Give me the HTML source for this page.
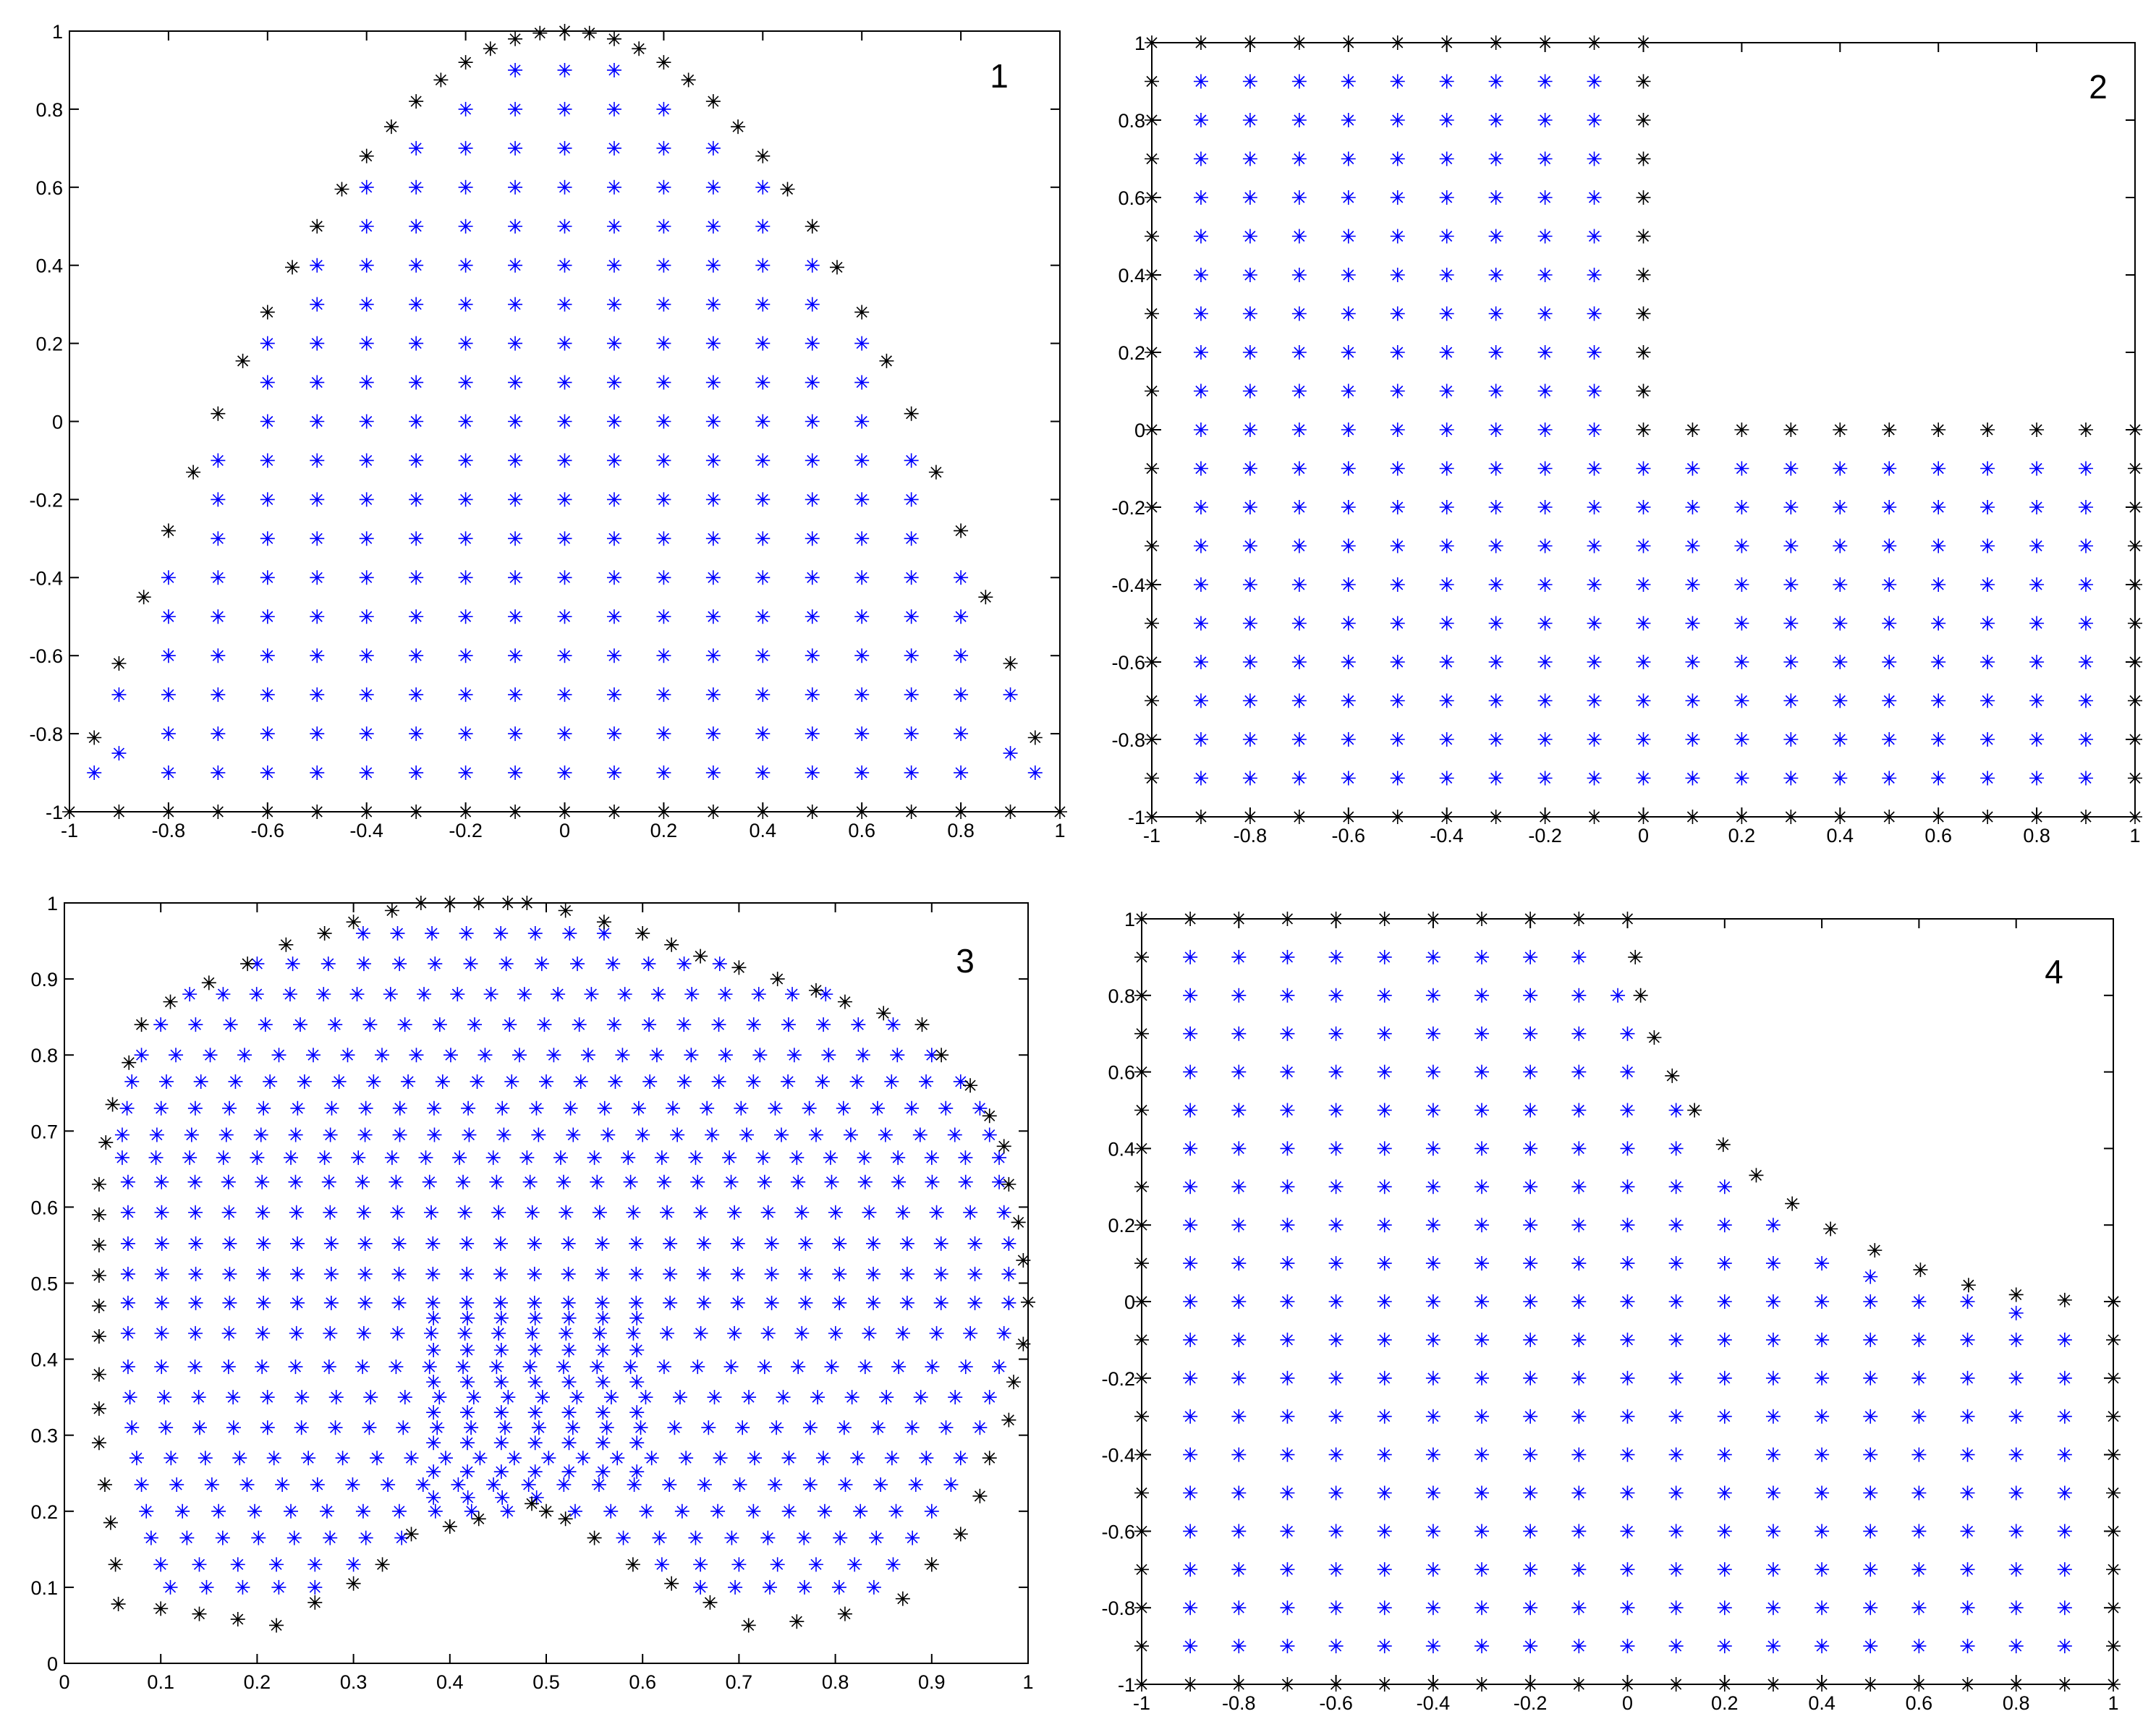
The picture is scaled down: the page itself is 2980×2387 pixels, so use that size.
<!DOCTYPE html>
<html><head><meta charset="utf-8"><style>
html,body{margin:0;padding:0;background:#fff}
svg{display:block}
text{font-family:"Liberation Sans",Arial,sans-serif}
</style></head><body>
<svg id="fig" width="2980" height="2387" viewBox="0 0 2980 2387" xmlns="http://www.w3.org/2000/svg"></svg>
<script>
// ---------- Panel 1 data ----------
const p1BoundX = [-0.95,-0.9,-0.85,-0.8,-0.75,-0.7,-0.65,-0.6,-0.55,-0.5,-0.45,-0.4,-0.35,-0.3,-0.25,-0.2,-0.15,-0.1,-0.05,0,0.05,0.1,0.15,0.2,0.25,0.3,0.35,0.4,0.45,0.5,0.55,0.6,0.65,0.7,0.75,0.8,0.85,0.9,0.95];
const p1BoundY = [-0.81,-0.62,-0.45,-0.28,-0.13,0.02,0.155,0.28,0.395,0.5,0.595,0.68,0.755,0.82,0.875,0.92,0.955,0.98,0.995,1.0,0.995,0.98,0.955,0.92,0.875,0.82,0.755,0.68,0.595,0.5,0.395,0.28,0.155,0.02,-0.13,-0.28,-0.45,-0.62,-0.81];
const p1ColX = [-0.9,-0.8,-0.7,-0.6,-0.5,-0.4,-0.3,-0.2,-0.1,0,0.1,0.2,0.3,0.4,0.5,0.6,0.7,0.8,0.9];
const p1ColTop = [-0.7,-0.4,-0.1,0.2,0.4,0.6,0.7,0.8,0.9,0.9,0.9,0.8,0.7,0.6,0.4,0.2,-0.1,-0.4,-0.7];
const p1ColBottom = [-0.7,-0.9,-0.9,-0.9,-0.9,-0.9,-0.9,-0.9,-0.9,-0.9,-0.9,-0.9,-0.9,-0.9,-0.9,-0.9,-0.9,-0.9,-0.7];
const p1ExtraBlueX = [-0.95,-0.9,0.9,0.95];
const p1ExtraBlueY = [-0.9,-0.85,-0.85,-0.9];
const p1BottomX = [-1,-0.9,-0.8,-0.7,-0.6,-0.5,-0.4,-0.3,-0.2,-0.1,0,0.1,0.2,0.3,0.4,0.5,0.6,0.7,0.8,0.9,1];
const symTicks = [-1,-0.8,-0.6,-0.4,-0.2,0,0.2,0.4,0.6,0.8,1];
const symTickLabels = ["-1","-0.8","-0.6","-0.4","-0.2","0","0.2","0.4","0.6","0.8","1"];
const gridVals = [-1,-0.9,-0.8,-0.7,-0.6,-0.5,-0.4,-0.3,-0.2,-0.1,0,0.1,0.2,0.3,0.4,0.5,0.6,0.7,0.8,0.9,1];

// ---------- Panel 4 data ----------
const p4CurveX = [0,0.016,0.027,0.055,0.092,0.138,0.197,0.265,0.339,0.418,0.509,0.603,0.702,0.8,0.9,1];
const p4CurveY = [1,0.9,0.8,0.69,0.59,0.5,0.41,0.33,0.256,0.19,0.134,0.083,0.043,0.018,0.004,0];
const p4ColX = [0,0.1,0.2,0.3,0.4,0.5,0.6,0.7,0.8,0.9];
const p4ColTop = [0.7,0.5,0.3,0.2,0.1,0.0,0.0,0.0,-0.1,-0.1];
const p4ExtraBlueX = [-0.02,0.5,0.8];
const p4ExtraBlueY = [0.8,0.065,-0.03];

// ---------- Panel 3 data ----------
const p3BoundX = [0.37,0.4,0.43,0.46,0.48,0.52,0.56,0.6,0.63,0.66,0.7,0.74,0.78,0.81,0.85,0.89,0.91,0.94,0.96,0.975,0.98,0.99,0.995,1.0,0.995,0.985,0.98,0.96,0.95,0.93,0.9,0.87,0.81,0.76,0.71,0.67,0.63,0.59,0.55,0.52,0.5,0.485,0.43,0.4,0.36,0.33,0.3,0.26,0.22,0.18,0.14,0.1,0.056,0.053,0.048,0.042,0.036,0.036,0.036,0.036,0.036,0.036,0.036,0.036,0.036,0.043,0.05,0.067,0.08,0.11,0.15,0.19,0.23,0.27,0.3,0.34];
const p3BoundY = [1,1,1,1,1,0.99,0.975,0.96,0.945,0.93,0.915,0.9,0.885,0.87,0.855,0.84,0.8,0.76,0.72,0.68,0.63,0.58,0.53,0.475,0.42,0.37,0.32,0.27,0.22,0.17,0.13,0.085,0.065,0.055,0.05,0.08,0.105,0.13,0.165,0.19,0.2,0.21,0.19,0.18,0.17,0.13,0.105,0.08,0.05,0.058,0.065,0.072,0.078,0.13,0.185,0.235,0.29,0.335,0.38,0.43,0.47,0.51,0.55,0.59,0.63,0.685,0.735,0.79,0.84,0.87,0.895,0.92,0.945,0.96,0.975,0.99];
// rows: y, xStart, xEnd, count
const p3RowY  = [0.96,0.92,0.88,0.84,0.80,0.765,0.73,0.695,0.665,0.633,0.593,0.552,0.512,0.474,0.434,0.39,0.35,0.31,0.27,0.235,0.2,0.2,0.165,0.165,0.13,0.13,0.1,0.1,0.454,0.412,0.37,0.33,0.29,0.252,0.218];
const p3RowX0 = [0.31,0.2,0.13,0.1,0.08,0.07,0.065,0.06,0.06,0.066,0.066,0.066,0.066,0.066,0.066,0.066,0.068,0.07,0.075,0.08,0.085,0.53,0.09,0.58,0.1,0.62,0.11,0.66,0.383,0.383,0.383,0.383,0.383,0.383,0.383];
const p3RowX1 = [0.56,0.68,0.79,0.86,0.9,0.93,0.95,0.96,0.97,0.97,0.975,0.98,0.98,0.98,0.975,0.97,0.96,0.95,0.93,0.92,0.46,0.9,0.35,0.88,0.3,0.86,0.26,0.84,0.594,0.594,0.594,0.594,0.594,0.594,0.49];
const p3RowN  = [8,14,20,22,24,25,26,26,27,27,27,27,27,27,27,27,26,26,25,24,11,11,8,9,6,7,5,6,7,7,7,7,7,7,4];
const p3Ticks = [0,0.1,0.2,0.3,0.4,0.5,0.6,0.7,0.8,0.9,1];
const p3TickLabels = ["0","0.1","0.2","0.3","0.4","0.5","0.6","0.7","0.8","0.9","1"];

const NS = "http://www.w3.org/2000/svg";
const svg = document.getElementById('fig');
function mk(tag, attrs, parent){ const e=document.createElementNS(NS,tag); for(const k in attrs) e.setAttribute(k,attrs[k]); (parent||svg).appendChild(e); return e; }

function makePanel(id, L,R,T,B, xmin,xmax,ymin,ymax, ticks, labels, num, numX, numY){
  const g = mk('g',{});
  
  
  const sx = v => L + (v-xmin)/(xmax-xmin)*(R-L);
  const sy = v => B - (v-ymin)/(ymax-ymin)*(B-T);
  const box = mk('rect',{x:L,y:T,width:R-L,height:B-T,fill:'none',stroke:'#000','stroke-width':2},g);
  
  
  ticks.forEach((t,i)=>{
    const x=sx(t), y=sy(t);
    mk('line',{x1:x,y1:B,x2:x,y2:B-13,stroke:'#000','stroke-width':2},g);
    mk('line',{x1:x,y1:T,x2:x,y2:T+13,stroke:'#000','stroke-width':2},g);
    mk('line',{x1:L,y1:y,x2:L+13,y2:y,stroke:'#000','stroke-width':2},g);
    mk('line',{x1:R,y1:y,x2:R-13,y2:y,stroke:'#000','stroke-width':2},g);
    const xl = mk('text',{x:x,y:B+35,'text-anchor':'middle','font-size':27,fill:'#000'},g);
    xl.textContent = labels[i];
    
    
    const yl = mk('text',{x:L-9,y:y+10,'text-anchor':'end','font-size':27,fill:'#000'},g);
    yl.textContent = labels[i];
    
    
  });
  const n = mk('text',{x:numX,y:numY,'text-anchor':'middle','font-size':46,fill:'#000'},g);
  n.textContent = num;
  
  
  const pts = mk('g',{},g);
  
  
  function star(xv,yv,color){
    const cx=sx(xv), cy=sy(yv), r=10, d=7;
    const p = mk('path',{d:`M${cx-r} ${cy}H${cx+r}M${cx} ${cy-r}V${cy+r}M${cx-d} ${cy-d}L${cx+d} ${cy+d}M${cx-d} ${cy+d}L${cx+d} ${cy-d}`,stroke:color,'stroke-width':1.6,fill:'none'},pts);
    
    
    mk('circle',{cx:cx,cy:cy,r:2.6,fill:color},pts);
  }
  return {star, sx, sy};
}
const BLUE='#0000ff', BLK='#000';

// Panel 1
const P1 = makePanel('panel-1',96,1465,43,1122,-1,1,-1,1,symTicks,symTickLabels,'1',1381,121);
p1ColX.forEach((x,i)=>{ gridVals.forEach(y=>{ if(y>=p1ColBottom[i]-1e-9 && y<=p1ColTop[i]+1e-9) P1.star(x,y,BLUE); }); });
p1ExtraBlueX.forEach((x,i)=>P1.star(x,p1ExtraBlueY[i],BLUE));
p1BottomX.forEach(x=>P1.star(x,-1,BLK));
p1BoundX.forEach((x,i)=>P1.star(x,p1BoundY[i],BLK));

// Panel 2
const P2 = makePanel('panel-2',1592,2951,59,1129,-1,1,-1,1,symTicks,symTickLabels,'2',2900,136);
gridVals.forEach(x=>{ gridVals.forEach(y=>{
  const onBottom = y===-1, onLeft = x===-1;
  const inUpper = x<=0 && y>=0, inLower = y<=0;
  if(!(inUpper||inLower)) return;
  const boundary = onBottom||onLeft||(y===1&&x<=0)||(x===0&&y>=0)||(y===0&&x>=0)||(x===1&&y<=0);
  P2.star(x,y,boundary?BLK:BLUE);
});});

// Panel 3
const P3 = makePanel('panel-3',89,1421,1248,2299,0,1,0,1,p3Ticks,p3TickLabels,'3',1334,1344);
p3RowY.forEach((y,i)=>{ const n=p3RowN[i]; for(let k=0;k<n;k++){ const x=p3RowX0[i]+(p3RowX1[i]-p3RowX0[i])*(n>1?k/(n-1):0); P3.star(x,y,BLUE);} });
p3BoundX.forEach((x,i)=>P3.star(x,p3BoundY[i],BLK));

// Panel 4
const P4 = makePanel('panel-4',1578,2921,1270,2328,-1,1,-1,1,symTicks,symTickLabels,'4',2839,1359);
gridVals.forEach(x=>{ gridVals.forEach(y=>{
  if(x<0){
    const boundary = x===-1||y===-1||y===1;
    P4.star(x,y,boundary?BLK:BLUE);
  }
});});
p4ColX.forEach((x,i)=>{ gridVals.forEach(y=>{ if(y===-1) P4.star(x,y,BLK); else if(y<=p4ColTop[i]+1e-9) P4.star(x,y,BLUE); }); });
gridVals.forEach(y=>{ if(y<=0) P4.star(1,y,BLK); });
p4ExtraBlueX.forEach((x,i)=>P4.star(x,p4ExtraBlueY[i],BLUE));
p4CurveX.forEach((x,i)=>P4.star(x,p4CurveY[i],BLK));
</script>
</body></html>
